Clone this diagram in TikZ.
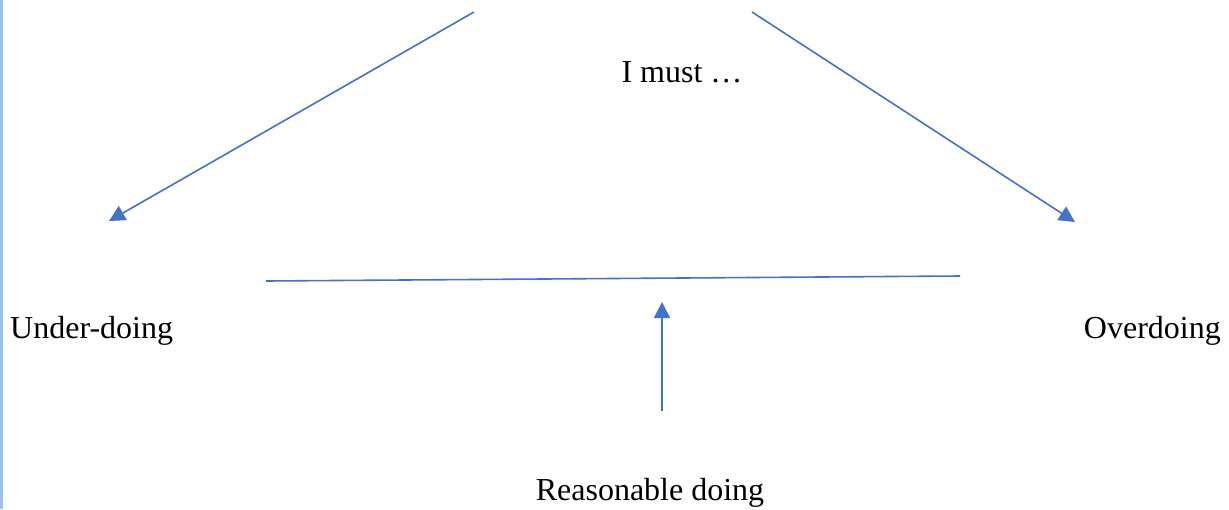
\documentclass[tikz,border=0pt]{standalone}
\usepackage{fontspec}
\setmainfont{Liberation Serif}
\usetikzlibrary{arrows.meta}
\definecolor{lineblue}{RGB}{68,114,196}
\definecolor{edgeblue}{RGB}{155,194,230}
\begin{document}
\begin{tikzpicture}[x=1pt,y=-1pt,
  conn/.style={draw=lineblue,line width=1.6pt},
  arr/.style={conn,-{Triangle[length=16pt,width=16pt]}},
  lbl/.style={font=\fontsize{32}{37}\selectfont,inner sep=0pt}]
\useasboundingbox (0,0) rectangle (1229,509);
\draw[edgeblue,line width=3pt] (1.5,0) -- (1.5,509);
\node[lbl] (must) at (682,72) {I must …};
\node[lbl,anchor=west] (under) at (10,331) {Under-doing};
\node[lbl,anchor=east] (over) at (1221,331) {Overdoing};
\node[lbl] (reas) at (650,493) {Reasonable doing};
\coordinate (la) at (474,12);
\coordinate (lb) at (109,221);
\coordinate (ra) at (752,12);
\coordinate (rb) at (1075,222);
\coordinate (ha) at (266,281);
\coordinate (hb) at (960,276);
\coordinate (va) at (662,411);
\coordinate (vb) at (662,302);
\draw[arr] (la) -- (lb);
\draw[arr] (ra) -- (rb);
\draw[conn] (ha) -- (hb);
\draw[arr] (va) -- (vb);
\end{tikzpicture}
\end{document}
